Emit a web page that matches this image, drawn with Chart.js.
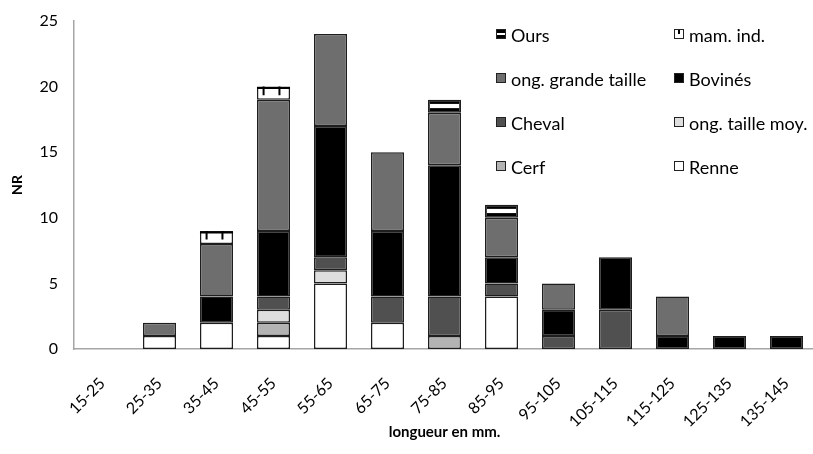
<!DOCTYPE html>
<html>
<head>
<meta charset="utf-8">
<script src="https://cdn.jsdelivr.net/npm/chart.js@4.4.1/dist/chart.umd.min.js"></script>
<style>
  html, body { margin:0; padding:0; background:#fff; }
  #wrap { position:relative; width:813px; height:454px; overflow:hidden; }
  #legend { position:absolute; left:496px; top:23px; display:grid; grid-template-columns:178px 150px; grid-auto-rows:44px;
            font:18px Lato, sans-serif; color:#000; }
  .li { display:flex; align-items:center; height:24px; white-space:nowrap; }
  .box { width:10px; height:10px; border:1.5px solid #222; margin-right:5px; margin-top:-3px; box-sizing:border-box; }
</style>
</head>
<body>
<div id="wrap">
  <canvas id="c" width="816" height="454"></canvas>
  <div id="legend"></div>
</div>
<script>
const categories = ['15-25','25-35','35-45','45-55','55-65','65-75','75-85','85-95','95-105','105-115','115-125','125-135','135-145'];
const renne        = [0,1,2,1,5,2,0,4,0,0,0,0,0];
const cerf         = [0,0,0,1,0,0,1,0,0,0,0,0,0];
const tailleMoy    = [0,0,0,1,1,0,0,0,0,0,0,0,0];
const cheval       = [0,0,0,1,1,2,3,1,1,3,0,0,0];
const bovines      = [0,0,2,5,10,5,10,2,2,4,1,1,1];
const grandeTaille = [0,1,4,10,7,6,4,3,2,0,3,0,0];
const mamInd       = [0,0,1,1,0,0,0,0,0,0,0,0,0];
const ours         = [0,0,0,0,0,0,1,1,0,0,0,0,0];
const yTicks = [0,5,10,15,20,25];

const FONT = 'Lato, sans-serif';
const series = [
  { label:'Renne', data:renne, color:'#ffffff' },
  { label:'Cerf', data:cerf, color:'#b3b3b3' },
  { label:'ong. taille moy.', data:tailleMoy, color:'#dedede' },
  { label:'Cheval', data:cheval, color:'#505050' },
  { label:'Bovinés', data:bovines, color:'#000000' },
  { label:'ong. grande taille', data:grandeTaille, color:'#6e6e6e' },
  { label:'mam. ind.', data:mamInd, color:'#ffffff', kind:'mam' },
  { label:'Ours', data:ours, color:'#000000', kind:'ours' }
];

// white stripe for Ours, little ticks for mam. ind.
const patternPlugin = {
  id:'patterns',
  afterDatasetsDraw(chart) {
    const ctx = chart.ctx;
    chart.data.datasets.forEach((ds, i) => {
      if (!ds.kind) return;
      chart.getDatasetMeta(i).data.forEach((el, j) => {
        if (ds.data[j] == null) return;
        const { x, y, base, width } = el.getProps(['x','y','base','width'], true);
        const l = x - width/2, h = base - y;
        ctx.save();
        if (ds.kind === 'ours') {
          ctx.fillStyle = '#fff';
          ctx.fillRect(l + 2, y + h*0.32, width - 4, h*0.32);
        } else {
          ctx.strokeStyle = '#000'; ctx.lineWidth = 2;
          ctx.beginPath();
          ctx.moveTo(l, y + 1.5); ctx.lineTo(l + width, y + 1.5);
          [0.2, 0.68].forEach(f => { ctx.moveTo(l + width*f, y); ctx.lineTo(l + width*f, y + h*0.65); });
          ctx.stroke();
        }
        ctx.restore();
      });
    });
  }
};

new Chart(document.getElementById('c'), {
  type:'bar',
  data:{
    labels:categories,
    datasets:series.map(s => ({
      label:s.label, kind:s.kind,
      data:s.data.map(v => v === 0 ? null : v),
      backgroundColor:s.color, borderColor:'#1e1e1e', borderWidth:1.5, borderSkipped:false,
      barPercentage:0.58, categoryPercentage:1
    }))
  },
  options:{
    responsive:false, animation:false, devicePixelRatio:1,
    layout:{ padding:{ top:21, right:1, left:0, bottom:0 } },
    plugins:{ legend:{ display:false }, tooltip:{ enabled:false } },
    scales:{
      x:{ stacked:true,
        grid:{ display:false, drawTicks:false },
        border:{ color:'#a6a6a6', width:1.5 },
        ticks:{ color:'#000', font:{ family:FONT, size:16 }, maxRotation:45, minRotation:45, padding:25 },
        title:{ display:true, text:'longueur en mm.', color:'#000', font:{ family:FONT, size:15, weight:'bold' }, padding:{ top:0, bottom:13 } },
        afterFit:s => { s.height = 105; s.paddingLeft = 0; s.paddingRight = 0; }
      },
      y:{ stacked:true, min:0, max:25,
        afterBuildTicks:s => { s.ticks = yTicks.map(v => ({ value:v })); },
        grid:{ display:false, drawTicks:true, tickLength:5, tickColor:'#a6a6a6' },
        border:{ color:'#a6a6a6', width:1.5 },
        ticks:{ color:'#000', font:{ family:FONT, size:16 }, padding:11 },
        title:{ display:true, text:'NR', color:'#000', font:{ family:FONT, size:14, weight:'bold' }, padding:{ top:9, bottom:4 } },
        afterFit:s => { s.width = 74; }
      }
    }
  },
  plugins:[patternPlugin]
});

// two-column legend, top series first
const legend = document.getElementById('legend');
series.slice().reverse().forEach(s => {
  const item = document.createElement('div');
  item.className = 'li';
  const box = document.createElement('span');
  box.className = 'box';
  box.style.background = s.color;
  if (s.kind === 'ours') box.style.background = 'linear-gradient(#000 0 35%, #fff 35% 65%, #000 65%)';
  if (s.kind === 'mam') box.style.background = 'linear-gradient(90deg, #fff 0 40%, #000 40% 60%, #fff 60%) top/100% 55% no-repeat, #fff';
  item.appendChild(box);
  item.appendChild(document.createTextNode(s.label));
  legend.appendChild(item);
});
</script>
</body>
</html>
